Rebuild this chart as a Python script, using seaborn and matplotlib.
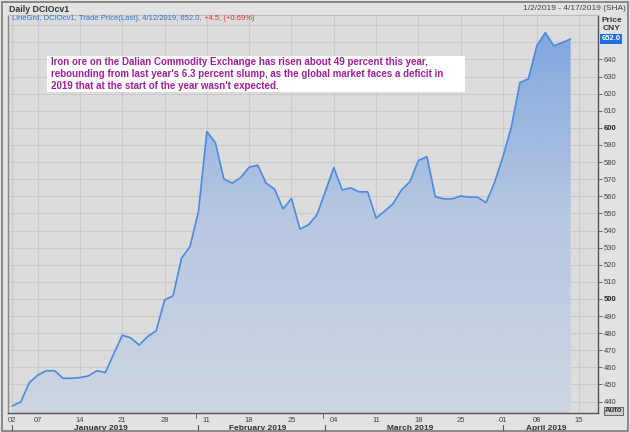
import numpy as np
import pandas as pd
import matplotlib
matplotlib.use("Agg")
import matplotlib.pyplot as plt
import seaborn as sns
from matplotlib.colors import LinearSegmentedColormap
from matplotlib.patches import Rectangle
from matplotlib.lines import Line2D

# ---------------- data ----------------
dates = [
    "2019-01-02", "2019-01-03", "2019-01-04", "2019-01-07", "2019-01-08", "2019-01-09",
    "2019-01-10", "2019-01-11", "2019-01-14", "2019-01-15", "2019-01-16", "2019-01-17",
    "2019-01-18", "2019-01-21", "2019-01-22", "2019-01-23", "2019-01-24", "2019-01-25",
    "2019-01-28", "2019-01-29", "2019-01-30", "2019-01-31",
    "2019-02-01", "2019-02-11", "2019-02-12", "2019-02-13", "2019-02-14", "2019-02-15",
    "2019-02-18", "2019-02-19", "2019-02-20", "2019-02-21", "2019-02-22", "2019-02-25",
    "2019-02-26", "2019-02-27", "2019-02-28",
    "2019-03-01", "2019-03-04", "2019-03-05", "2019-03-06", "2019-03-07", "2019-03-08",
    "2019-03-11", "2019-03-12", "2019-03-13", "2019-03-14", "2019-03-15", "2019-03-18",
    "2019-03-19", "2019-03-20", "2019-03-21", "2019-03-22", "2019-03-25", "2019-03-26",
    "2019-03-27", "2019-03-28", "2019-03-29",
    "2019-04-01", "2019-04-02", "2019-04-03", "2019-04-04", "2019-04-08", "2019-04-09",
    "2019-04-10", "2019-04-11", "2019-04-12",
]
prices = [
    437.4, 439.8, 451.0, 455.4, 458.0, 458.0, 453.6, 453.6, 454.0, 455.0, 458.0, 457.0,
    468.0, 478.8, 477.2, 473.0, 478.0, 481.3, 499.4, 501.8, 523.8, 530.6,
    551.0, 597.8, 591.4, 570.2, 567.7, 571.0, 577.0, 578.2, 567.7, 564.2, 552.6, 558.7,
    540.8, 543.3, 549.1,
    562.8, 576.8, 563.7, 564.9, 562.6, 562.6, 547.2, 551.3, 555.6, 563.7, 568.6, 580.9,
    583.2, 559.8, 558.5, 558.5, 560.2, 559.5, 559.5, 556.3, 568.0,
    583.2, 600.8, 626.5, 628.7, 648.0, 655.7, 648.0, 649.9, 652.0,
]
extra_sessions = ["2019-04-15", "2019-04-16", "2019-04-17"]
tick_dates = ["2019-01-02", "2019-01-07", "2019-01-14", "2019-01-21", "2019-01-28",
              "2019-02-11", "2019-02-18", "2019-02-25", "2019-03-04", "2019-03-11",
              "2019-03-18", "2019-03-25", "2019-04-01", "2019-04-08", "2019-04-15"]
tick_labels = ["02", "07", "14", "21", "28", "11", "18", "25", "04", "11",
               "18", "25", "01", "08", "15"]
month_names = ["January 2019", "February 2019", "March 2019", "April 2019"]
month_keys = ["2019-01", "2019-02", "2019-03", "2019-04"]
ytick_values = list(range(440, 641, 10))

header_left = "Daily DCIOcv1"
header_right = "1/2/2019 - 4/17/2019 (SHA)"
legend_blue = "LineGrd, DCIOcv1, Trade Price(Last), 4/12/2019, 652.0, "
legend_red = "+4.5, (+0.69%)"
note = ("Iron ore on the Dalian Commodity Exchange has risen about 49 percent this year,\n"
        "rebounding from last year's 6.3 percent slump, as the global market faces a deficit in\n"
        "2019 that at the start of the year wasn't expected.")
last_label = "652.0"

# trading-session index (the x axis skips holidays/weekends)
sessions = dates + extra_sessions
idx = {d: i for i, d in enumerate(sessions)}
df = pd.DataFrame({"session": [idx[d] for d in dates], "price": prices})

# ---------------- figure ----------------
W, H = 630, 432
sns.set_style("white")
plt.rcParams["font.family"] = ["Liberation Sans", "DejaVu Sans"]
fig = plt.figure(figsize=(W / 100, H / 100), dpi=100, facecolor="#e2e2e2")

def fx(px):
    return px / W

def fy(py):
    return 1 - py / H

AX_TOP, AX_BOT = 15, 413
ax = fig.add_axes([fx(8), fy(AX_BOT), fx(598) - fx(8), fy(AX_TOP) - fy(AX_BOT)])
ax.set_facecolor("#dcdcdc")
xlim = (-0.51, 69.23)
ylim = (433.3, 666.0)
ax.set_xlim(*xlim)
ax.set_ylim(*ylim)

def ay(py):
    """pixel row -> axes fraction"""
    return (AX_BOT - py) / (AX_BOT - AX_TOP)

# grid
tick_pos = [idx[d] for d in tick_dates]
for t in tick_pos:
    ax.axvline(t, color="#cacaca", lw=0.8, zorder=0)
for v in range(440, 661, 10):
    ax.axhline(v, color="#cacaca", lw=0.8, zorder=0)

# gradient area fill, clipped to the area under the line
poly = ax.fill_between(df["session"], df["price"], ylim[0], facecolor="none",
                       edgecolor="none")
cmap = LinearSegmentedColormap.from_list("g", ["#cdd5e3", "#b6c7e2", "#7aa4e0"])
grad = np.linspace(0, 1, 256).reshape(-1, 1)
im = ax.imshow(grad, extent=[xlim[0], xlim[1], ylim[0], 660], origin="lower",
               aspect="auto", cmap=cmap, zorder=1, alpha=0.95)
im.set_clip_path(poly.get_paths()[0], transform=ax.transData)
ax.set_xlim(*xlim)
ax.set_ylim(*ylim)

sns.lineplot(data=df, x="session", y="price", ax=ax, color="#4a8be0", lw=1.2,
             zorder=3)
ax.set_xlabel("")
ax.set_ylabel("")

# axes styling
ax.spines["top"].set_color("#bdbdbd")
ax.spines["top"].set_linewidth(0.8)
ax.spines["left"].set_color("#8a8a8a")
ax.spines["left"].set_linewidth(1.0)
ax.spines["bottom"].set_color("#555555")
ax.spines["bottom"].set_linewidth(1.0)
ax.spines["right"].set_color("#555555")
ax.spines["right"].set_linewidth(1.0)

ax.yaxis.tick_right()
ax.set_yticks(ytick_values)
ax.set_yticklabels([str(v) for v in ytick_values])
ax.tick_params(axis="y", which="major", direction="out", length=3, width=0.6,
               color="#555555", labelsize=5.5, labelcolor="#444444", pad=1)
for lbl, v in zip(ax.get_yticklabels(), ytick_values):
    if v in (500, 600):
        lbl.set_fontweight("bold")
        lbl.set_color("#222222")

ax.set_xticks(tick_pos)
ax.set_xticklabels(tick_labels)
ax.tick_params(axis="x", which="major", direction="out", length=2, width=0.6,
               color="#777777", labelsize=5.5, labelcolor="#444444", pad=1)

# month labels and separators
month_first = {}
month_last = {}
for d in sessions:
    k = d[:7]
    month_first.setdefault(k, idx[d])
    month_last[k] = idx[d]
trans = ax.get_xaxis_transform()
for k, name in zip(month_keys, month_names):
    a = max(month_first[k], xlim[0])
    b = min(month_last[k] + 1, xlim[1])
    ax.text((a + b) / 2 - 0.5, ay(431.5), name,
            transform=trans, ha="center", va="bottom", fontsize=6.0, fontweight="bold",
            color="#333333", clip_on=False)
    xs = month_first[k]
    ax.add_line(Line2D([xs, xs], [ay(425), ay(432)], transform=trans,
                       color="#555555", lw=0.8, clip_on=False))
    if k in ("2019-02", "2019-03"):
        ax.add_line(Line2D([xs - 0.3, xs - 0.3], [ay(414), ay(418)],
                           transform=trans, color="#666666", lw=0.7, clip_on=False))

# header texts
fig.text(fx(9), fy(9), header_left, fontsize=6.3, color="#333333", va="center",
         ha="left", fontweight="bold")
fig.text(fx(626), fy(9), header_right, fontsize=6, color="#444444", va="center",
         ha="right")
t1 = fig.text(fx(12), fy(18), legend_blue, fontsize=5.5, color="#2f72d0",
              va="center", ha="left")
ax.annotate(legend_red, xy=(1, 0.5), xycoords=t1, va="center", ha="left",
            fontsize=5.5, color="#e03030", annotation_clip=False)

fig.text(fx(612), fy(21), "Price", fontsize=6, color="#333333", ha="center",
         va="center", fontweight="bold")
fig.text(fx(612), fy(29), "CNY", fontsize=6, color="#333333", ha="center",
         va="center", fontweight="bold")

# last price marker on axis
ytr = ax.get_yaxis_transform()
ax.text(1.006, prices[-1], last_label, transform=ytr, fontsize=5.5, color="white",
        fontweight="bold", ha="left", va="center", clip_on=False, zorder=10,
        bbox=dict(boxstyle="square,pad=0.15", facecolor="#1f6fe0", edgecolor="none"))

# Auto button
fig.patches.append(Rectangle((fx(604), fy(415)), fx(19), fy(407) - fy(415),
                             transform=fig.transFigure, facecolor="#cfcfcf",
                             edgecolor="#555555", lw=0.6))
fig.text(fx(613.5), fy(411), "Auto", fontsize=5.5, color="#333333", ha="center",
         va="center", fontweight="bold")

# annotation box
fig.patches.append(Rectangle((fx(47), fy(92)), fx(465) - fx(47), fy(56) - fy(92),
                             transform=fig.transFigure, facecolor="white",
                             edgecolor="none", zorder=5))
fig.text(fx(51), fy(74), note, fontsize=7, color="#a0209a", fontweight="bold",
         ha="left", va="center", linespacing=1.2, zorder=6)

# outer frame
fig.patches.append(Rectangle((fx(1.5), fy(430.5)), fx(626), fy(1.5) - fy(430.5),
                             transform=fig.transFigure, facecolor="none",
                             edgecolor="#7a7a7a", lw=1.2))

fig.savefig("out.png", dpi=100, facecolor=fig.get_facecolor())
